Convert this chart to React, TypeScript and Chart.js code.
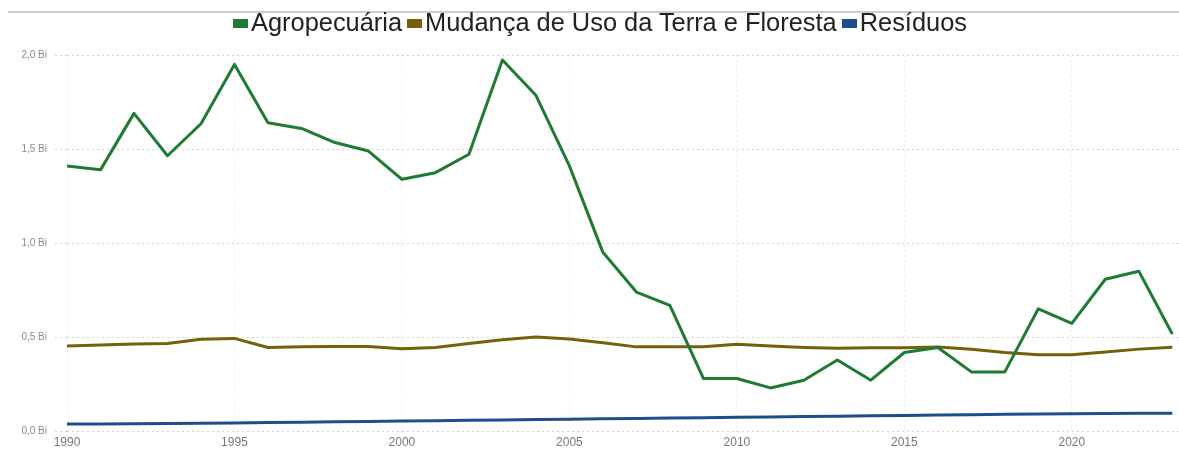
import React, { useEffect, useRef } from "react";
import { Chart, registerables } from "chart.js";

Chart.register(...registerables);

const years = [
  1990, 1991, 1992, 1993, 1994, 1995, 1996, 1997, 1998, 1999, 2000, 2001,
  2002, 2003, 2004, 2005, 2006, 2007, 2008, 2009, 2010, 2011, 2012, 2013,
  2014, 2015, 2016, 2017, 2018, 2019, 2020, 2021, 2022, 2023,
];

const agropecuaria = [
  1.41, 1.39, 1.69, 1.465, 1.635, 1.95, 1.64, 1.61, 1.535, 1.49, 1.34, 1.375,
  1.473, 1.973, 1.786, 1.411, 0.952, 0.741, 0.67, 0.282, 0.282, 0.232, 0.273,
  0.38, 0.273, 0.42, 0.447, 0.317, 0.317, 0.652, 0.575, 0.809, 0.852, 0.518,
];

const mudancaUsoTerra = [
  0.455, 0.46, 0.465, 0.468, 0.49, 0.495, 0.447, 0.45, 0.452, 0.452, 0.44,
  0.447, 0.468, 0.488, 0.503, 0.492, 0.472, 0.45, 0.45, 0.45, 0.464, 0.455,
  0.447, 0.442, 0.445, 0.445, 0.449, 0.437, 0.42, 0.408, 0.408, 0.423, 0.438,
  0.448,
];

const residuos = [
  0.04, 0.041, 0.042, 0.043, 0.044, 0.046, 0.048, 0.05, 0.052, 0.054, 0.056,
  0.058, 0.06, 0.062, 0.064, 0.066, 0.068, 0.07, 0.072, 0.074, 0.076, 0.078,
  0.08, 0.082, 0.084, 0.086, 0.088, 0.09, 0.092, 0.094, 0.095, 0.096, 0.097,
  0.098,
];

const seriesNames = ["Agropecuária", "Mudança de Uso da Terra e Floresta", "Resíduos"];
const seriesColors = ["#1f7a34", "#76600a", "#1d4e89"];
const yTickValues = [0, 0.5, 1, 1.5, 2];
const xTickValues = [1990, 1995, 2000, 2005, 2010, 2015, 2020];

export default function App() {
  const canvasRef = useRef<HTMLCanvasElement>(null);

  useEffect(() => {
    document.body.style.margin = "0";
    const canvas = canvasRef.current;
    if (!canvas) return;
    const allSeries = [agropecuaria, mudancaUsoTerra, residuos];
    const chart = new Chart(canvas, {
      type: "line",
      data: {
        datasets: allSeries.map((vals, k) => ({
          label: seriesNames[k],
          data: years.map((yr, i) => ({ x: yr, y: vals[i] })),
          borderColor: seriesColors[k],
          backgroundColor: seriesColors[k],
          borderWidth: 3,
          pointRadius: 0,
          pointHoverRadius: 0,
          tension: 0,
          fill: false,
          borderJoinStyle: "round",
        })),
      },
      options: {
        animation: false,
        responsive: false,
        maintainAspectRatio: false,
        layout: { padding: { top: 55, bottom: 1, left: 0, right: 0 } },
        plugins: {
          legend: { display: false },
          tooltip: { enabled: false },
        },
        scales: {
          x: {
            type: "linear",
            min: 1990,
            max: 2023.2,
            afterBuildTicks: (s: any) => {
              s.ticks = xTickValues.map((v) => ({ value: v }));
            },
            ticks: {
              padding: 4,
              color: "#777777",
              font: { family: "Liberation Sans, Arial, sans-serif", size: 12 },
              callback: (v: any) => String(v),
              autoSkip: false,
              maxRotation: 0,
              includeBounds: false,
            },
            grid: {
              color: "#ededed",
              drawTicks: false,
            },
            border: { display: false, dash: [2, 3] },
          },
          y: {
            type: "linear",
            min: 0,
            max: 2,
            afterBuildTicks: (s: any) => {
              s.ticks = yTickValues.map((v) => ({ value: v }));
            },
            afterFit: (s: any) => {
              s.width = 67;
            },
            ticks: {
              padding: 8,
              color: "#8a8a8a",
              font: { family: "Liberation Sans, Arial, sans-serif", size: 10 },
              callback: (v: any) => Number(v).toFixed(1).replace(".", ",") + " Bi",
            },
            grid: {
              color: "#d2d2d2",
              tickColor: "#d2d2d2",
              tickLength: 12,
              tickBorderDash: [2, 3],
            },
            border: { display: false, dash: [2, 3] },
          },
        },
      },
    } as any);
    return () => chart.destroy();
  }, []);

  return (
    <div style={{ position: "relative", width: 1179, height: 455, background: "#fff", overflow: "hidden" }}>
      <canvas
        ref={canvasRef}
        width={1179}
        height={455}
        style={{ position: "absolute", left: 0, top: 0, width: 1179, height: 455, display: "block" }}
      />
      <div style={{ position: "absolute", top: 11, left: 8, right: 0, height: 2, background: "#cccccc" }} />
      <div
        style={{
          position: "absolute",
          top: 8,
          left: 0,
          right: 0,
          paddingLeft: 21,
          display: "flex",
          justifyContent: "center",
          fontFamily: "Liberation Sans, Arial, sans-serif",
          fontSize: 25.4,
          lineHeight: "28px",
          color: "#222",
          whiteSpace: "nowrap",
        }}
      >
        {seriesNames.map((name, k) => (
          <div key={name} style={{ display: "flex", alignItems: "center", marginRight: k < seriesNames.length - 1 ? 5 : 0 }}>
            <span
              style={{
                display: "inline-block",
                width: 15,
                height: 9,
                marginTop: 3,
                marginRight: 3,
                background: seriesColors[k],
              }}
            />
            <span>{name}</span>
          </div>
        ))}
      </div>
    </div>
  );
}
